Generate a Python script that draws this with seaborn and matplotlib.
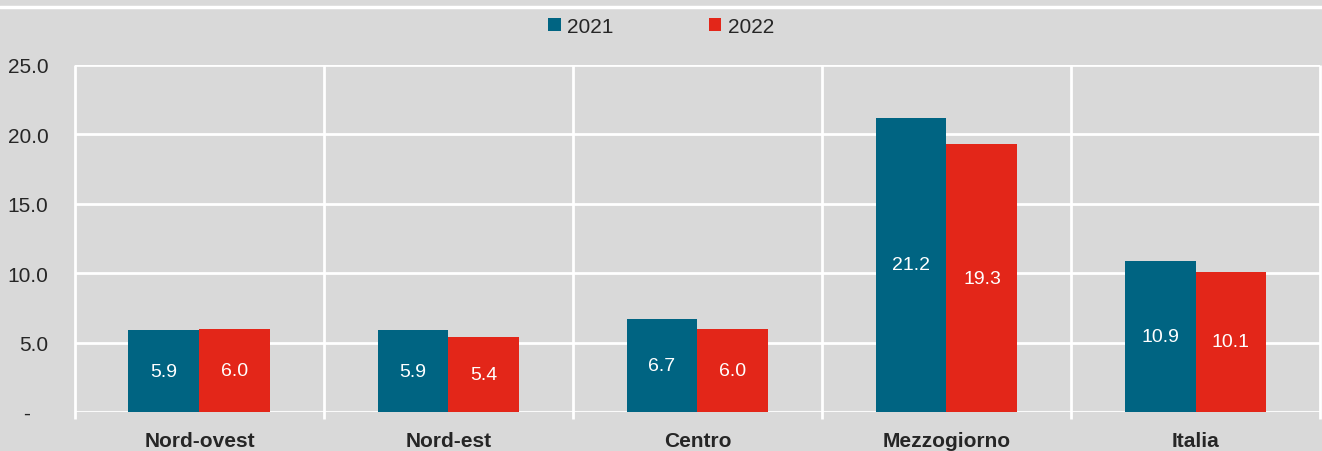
import seaborn as sns
import matplotlib.pyplot as plt
import pandas as pd
from matplotlib.lines import Line2D

regioni = ['Nord-ovest', 'Nord-est', 'Centro', 'Mezzogiorno', 'Italia']
val_2021 = [5.9, 5.9, 6.7, 21.2, 10.9]
val_2022 = [6.0, 5.4, 6.0, 19.3, 10.1]
anni = ['2021', '2022']
yticks = [0, 5, 10, 15, 20, 25]
ytick_labels = ['-   ', '5.0', '10.0', '15.0', '20.0', '25.0']

df = pd.DataFrame({
    'area': regioni * 2,
    'anno': [anni[0]] * 5 + [anni[1]] * 5,
    'valore': val_2021 + val_2022,
})

bg = '#d9d9d9'
sns.set_style('white')
plt.rcParams['font.family'] = ['Liberation Sans Narrow', 'Liberation Sans', 'DejaVu Sans']

fig = plt.figure(figsize=(13.22, 4.52), dpi=100, facecolor=bg)
ax = fig.add_axes([0.0567, 0.0863, 0.9418, 0.7677])
ax.set_facecolor(bg)

sns.barplot(data=df, x='area', y='valore', hue='anno',
            palette=['#006482', '#e32619'], width=0.57,
            saturation=1, linewidth=0, ax=ax, legend=True)

for c in ax.containers:
    ax.bar_label(c, labels=[f'{v:.1f}' for v in c.datavalues],
                 label_type='center', color='white', fontsize=14)

ax.set_xlim(-0.5, 4.5)
ax.set_ylim(0, 25)
ax.set_yticks(yticks)
ax.set_yticklabels(ytick_labels, fontsize=15)
ax.yaxis.grid(True, color='white', linewidth=2)
ax.set_axisbelow(True)
ax.tick_params(axis='y', length=5, color='white', width=2, pad=14)
ax.tick_params(axis='x', length=0, pad=14)
for lbl in ax.get_xticklabels():
    lbl.set_fontweight('bold')
    lbl.set_fontsize(15)
ax.set_xlabel('')
ax.set_ylabel('')
for s in ax.spines.values():
    s.set_visible(False)

# separatori verticali tra le aree
ax.vlines([i - 0.5 for i in range(6)], -0.5, 25, color='white',
          linewidth=2, clip_on=False, zorder=0)

ax.legend(loc='center', bbox_to_anchor=(0.5, 0.94), bbox_transform=fig.transFigure,
          ncol=2, frameon=False, fontsize=15, handlelength=0.6, handleheight=0.6,
          handletextpad=0.3, columnspacing=4.6)

fig.add_artist(Line2D([0, 1], [0.982, 0.982], color='white', linewidth=2.5,
                      transform=fig.transFigure))

fig.savefig('out.png', dpi=100, facecolor=bg)
